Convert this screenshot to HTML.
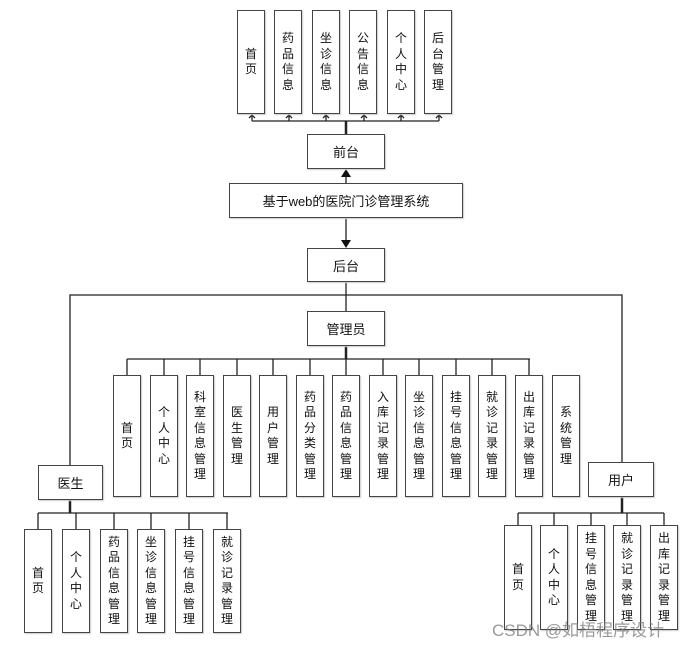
<!DOCTYPE html>
<html><head><meta charset="utf-8"><style>
body{margin:0;background:#fff;width:699px;height:646px;position:relative;overflow:hidden;font-family:"Liberation Sans","Noto Sans CJK SC",sans-serif;}
.b{position:absolute;box-sizing:border-box;border:1.5px solid #444;background:#fff;display:flex;align-items:center;justify-content:center;text-align:center;font-size:12px;color:#111;box-shadow:1px 1px 1px #ccc;}
.v{width:28px;line-height:15.5px;}
.h{font-size:13px;}
svg{position:absolute;left:0;top:0;}
.wm{position:absolute;left:492px;top:616px;font-size:17px;color:rgba(120,120,120,0.75);letter-spacing:0px;white-space:nowrap;}
</style></head><body>
<svg width="699" height="646">
<g stroke="#222" stroke-width="1.3" fill="none">
<line x1="252" y1="121" x2="439" y2="121"/>
<line x1="252" y1="114" x2="252" y2="121"/><line x1="289" y1="114" x2="289" y2="121"/><line x1="326" y1="114" x2="326" y2="121"/><line x1="364" y1="114" x2="364" y2="121"/><line x1="401" y1="114" x2="401" y2="121"/><line x1="439" y1="114" x2="439" y2="121"/>
<polyline points="249,118 252,115 255,118"/><polyline points="286,118 289,115 292,118"/><polyline points="323,118 326,115 329,118"/><polyline points="361,118 364,115 367,118"/><polyline points="398,118 401,115 404,118"/><polyline points="436,118 439,115 442,118"/>
<line x1="346" y1="121" x2="346" y2="134" stroke-width="2.5"/>
<line x1="346" y1="175" x2="346" y2="183"/>
<line x1="346" y1="218" x2="346" y2="240"/>
<line x1="346" y1="282" x2="346" y2="311"/>
<polyline points="70,465 70,295 622,295 622,462"/>
<line x1="346" y1="346" x2="346" y2="359" stroke-width="2.5"/>
<line x1="127" y1="359" x2="530" y2="359"/>
<line x1="127" y1="359" x2="127" y2="375"/><line x1="164" y1="359" x2="164" y2="375"/><line x1="200" y1="359" x2="200" y2="375"/><line x1="237" y1="359" x2="237" y2="375"/><line x1="273" y1="359" x2="273" y2="375"/><line x1="310" y1="359" x2="310" y2="375"/><line x1="346" y1="359" x2="346" y2="375"/><line x1="383" y1="359" x2="383" y2="375"/><line x1="419" y1="359" x2="419" y2="375"/><line x1="456" y1="359" x2="456" y2="375"/><line x1="492" y1="359" x2="492" y2="375"/><line x1="529" y1="359" x2="529" y2="375"/>
<line x1="70" y1="500" x2="70" y2="513" stroke-width="2.5"/>
<line x1="38" y1="513" x2="228" y2="513"/>
<line x1="38" y1="513" x2="38" y2="529"/><line x1="76" y1="513" x2="76" y2="529"/><line x1="114" y1="513" x2="114" y2="529"/><line x1="151" y1="513" x2="151" y2="529"/><line x1="189" y1="513" x2="189" y2="529"/><line x1="227" y1="513" x2="227" y2="529"/>
<line x1="622" y1="497" x2="622" y2="513" stroke-width="2.5"/>
<line x1="518" y1="513" x2="664" y2="513"/>
<line x1="518" y1="513" x2="518" y2="525"/><line x1="554" y1="513" x2="554" y2="525"/><line x1="591" y1="513" x2="591" y2="525"/><line x1="627" y1="513" x2="627" y2="525"/><line x1="664" y1="513" x2="664" y2="525"/>
</g>
<polygon points="346,169 341,177 351,177" fill="#111"/>
<polygon points="346,248 341,240 351,240" fill="#111"/>
</svg>
<div class="b v" style="left:237px;top:10px;height:104px">首<br>页</div>
<div class="b v" style="left:274px;top:10px;height:104px">药<br>品<br>信<br>息</div>
<div class="b v" style="left:312px;top:10px;height:104px">坐<br>诊<br>信<br>息</div>
<div class="b v" style="left:349px;top:10px;height:104px">公<br>告<br>信<br>息</div>
<div class="b v" style="left:387px;top:10px;height:104px">个<br>人<br>中<br>心</div>
<div class="b v" style="left:424px;top:10px;height:104px">后<br>台<br>管<br>理</div>
<div class="b h" style="left:307px;top:134px;width:78px;height:35px">前台</div>
<div class="b h" style="left:229px;top:183px;width:234px;height:35px">基于web的医院门诊管理系统</div>
<div class="b h" style="left:307px;top:248px;width:78px;height:34px">后台</div>
<div class="b h" style="left:307px;top:311px;width:78px;height:35px">管理员</div>
<div class="b v" style="left:113px;top:375px;height:122px">首<br>页</div>
<div class="b v" style="left:150px;top:375px;height:122px">个<br>人<br>中<br>心</div>
<div class="b v" style="left:186px;top:375px;height:122px">科<br>室<br>信<br>息<br>管<br>理</div>
<div class="b v" style="left:223px;top:375px;height:122px">医<br>生<br>管<br>理</div>
<div class="b v" style="left:259px;top:375px;height:122px">用<br>户<br>管<br>理</div>
<div class="b v" style="left:296px;top:375px;height:122px">药<br>品<br>分<br>类<br>管<br>理</div>
<div class="b v" style="left:332px;top:375px;height:122px">药<br>品<br>信<br>息<br>管<br>理</div>
<div class="b v" style="left:369px;top:375px;height:122px">入<br>库<br>记<br>录<br>管<br>理</div>
<div class="b v" style="left:405px;top:375px;height:122px">坐<br>诊<br>信<br>息<br>管<br>理</div>
<div class="b v" style="left:442px;top:375px;height:122px">挂<br>号<br>信<br>息<br>管<br>理</div>
<div class="b v" style="left:478px;top:375px;height:122px">就<br>诊<br>记<br>录<br>管<br>理</div>
<div class="b v" style="left:515px;top:375px;height:122px">出<br>库<br>记<br>录<br>管<br>理</div>
<div class="b v" style="left:552px;top:375px;height:122px">系<br>统<br>管<br>理</div>
<div class="b h" style="left:38px;top:465px;width:65px;height:35px">医生</div>
<div class="b v" style="left:24px;top:529px;height:104px">首<br>页</div>
<div class="b v" style="left:62px;top:529px;height:104px">个<br>人<br>中<br>心</div>
<div class="b v" style="left:100px;top:529px;height:104px">药<br>品<br>信<br>息<br>管<br>理</div>
<div class="b v" style="left:137px;top:529px;height:104px">坐<br>诊<br>信<br>息<br>管<br>理</div>
<div class="b v" style="left:175px;top:529px;height:104px">挂<br>号<br>信<br>息<br>管<br>理</div>
<div class="b v" style="left:213px;top:529px;height:104px">就<br>诊<br>记<br>录<br>管<br>理</div>
<div class="b h" style="left:588px;top:462px;width:66px;height:35px">用户</div>
<div class="b v" style="left:504px;top:525px;height:105px">首<br>页</div>
<div class="b v" style="left:540px;top:525px;height:105px">个<br>人<br>中<br>心</div>
<div class="b v" style="left:577px;top:525px;height:105px">挂<br>号<br>信<br>息<br>管<br>理</div>
<div class="b v" style="left:613px;top:525px;height:105px">就<br>诊<br>记<br>录<br>管<br>理</div>
<div class="b v" style="left:650px;top:525px;height:105px">出<br>库<br>记<br>录<br>管<br>理</div>
<div class="wm">CSDN @如梧程序设计</div>
</body></html>
